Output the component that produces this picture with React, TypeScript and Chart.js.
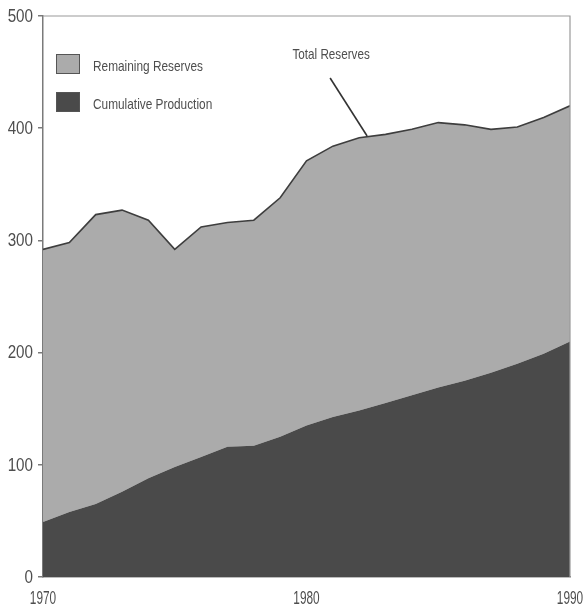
import React, { useEffect, useRef } from "react";
import { Chart, registerables } from "chart.js";

Chart.register(...registerables);

const years = [1970, 1971, 1972, 1973, 1974, 1975, 1976, 1977, 1978, 1979, 1980, 1981, 1982, 1983, 1984, 1985, 1986, 1987, 1988, 1989, 1990];
const cumulativeProduction = [49, 58, 65, 76, 88, 98, 107, 116, 117, 125, 135, 142.5, 148.5, 155, 162, 169, 175, 182, 190, 199, 210];
const totalReserves = [292, 298, 323, 327, 318, 292, 312, 316, 318, 338, 371, 384, 391.5, 394.5, 399, 405, 403, 399, 401, 409.5, 420];
const yTickValues = [0, 100, 200, 300, 400, 500];
const xTickValues = [1970, 1980, 1990];
const legendLabels = ["Remaining Reserves", "Cumulative Production"];
const annotationText = "Total Reserves";
const annotationYear = 1982.3;
const annotationValue = 393;

const LIGHT = "#ababab";
const DARK = "#4a4a4a";
const AXIS = "#7a7a7a";
const TEXT = "#4e4e4e";
const FONT = '"Liberation Sans", Arial, sans-serif';

function narrowText(ctx: CanvasRenderingContext2D, text: string, x: number, y: number, size: number, sx: number, align: CanvasTextAlign) {
  ctx.save();
  ctx.translate(x, y);
  ctx.scale(sx, 1);
  ctx.font = `${size}px ${FONT}`;
  ctx.textAlign = align;
  ctx.textBaseline = "middle";
  ctx.fillText(text, 0, 0);
  ctx.restore();
}

export default function App() {
  const ref = useRef<HTMLCanvasElement | null>(null);

  useEffect(() => {
    if (!ref.current) return;

    const overlay = {
      id: "overlay",
      afterDraw(chart: any) {
        const { ctx, chartArea, scales } = chart;
        ctx.save();
        // frame top and right
        ctx.strokeStyle = "#9a9a9a";
        ctx.lineWidth = 1.2;
        ctx.beginPath();
        ctx.moveTo(chartArea.left, chartArea.top);
        ctx.lineTo(chartArea.right, chartArea.top);
        ctx.lineTo(chartArea.right, chartArea.bottom);
        ctx.stroke();

        // tick labels
        ctx.fillStyle = TEXT;
        yTickValues.forEach((v) => {
          const py = scales.y.getPixelForValue(v);
          narrowText(ctx, String(v), chartArea.left - 10, py + 0.5, 19, 0.8, "right");
        });
        xTickValues.forEach((v) => {
          const px = scales.x.getPixelForValue(v);
          narrowText(ctx, String(v), px, chartArea.bottom + 22, 18.5, 0.64, "center");
        });

        // legend
        const colors = [LIGHT, DARK];
        legendLabels.forEach((lab, i) => {
          const bx = chartArea.left + 13;
          const by = chartArea.top + 38 + i * 38;
          ctx.fillStyle = colors[i];
          ctx.fillRect(bx, by, 24, 20);
          ctx.strokeStyle = "#555";
          ctx.lineWidth = 1;
          ctx.strokeRect(bx + 0.5, by + 0.5, 23, 19);
          ctx.fillStyle = TEXT;
          narrowText(ctx, lab, bx + 37, by + 13, 15, 0.79, "left");
        });

        // annotation
        const ax = scales.x.getPixelForValue(annotationYear);
        const ay = scales.y.getPixelForValue(annotationValue);
        const sx = ax - 37;
        const sy = ay - 58;
        ctx.strokeStyle = "#333";
        ctx.lineWidth = 1.6;
        ctx.beginPath();
        ctx.moveTo(sx, sy);
        ctx.lineTo(ax, ay);
        ctx.stroke();
        ctx.fillStyle = TEXT;
        narrowText(ctx, annotationText, sx + 1, sy - 23, 15, 0.78, "center");
        ctx.restore();
      },
    };

    const chart = new Chart(ref.current, {
      type: "line",
      data: {
        datasets: [
          {
            label: legendLabels[1],
            data: years.map((y, i) => ({ x: y, y: cumulativeProduction[i] })),
            fill: "origin",
            backgroundColor: DARK,
            borderColor: DARK,
            borderWidth: 0,
            pointRadius: 0,
            tension: 0,
          },
          {
            label: legendLabels[0],
            data: years.map((y, i) => ({ x: y, y: totalReserves[i] })),
            fill: "-1",
            backgroundColor: LIGHT,
            borderColor: "#3e3e3e",
            borderWidth: 1.6,
            pointRadius: 0,
            tension: 0,
          },
        ],
      },
      plugins: [overlay],
      options: {
        animation: false,
        responsive: false,
        maintainAspectRatio: false,
        layout: { padding: { top: 16, right: 14, left: 0, bottom: 0 } },
        plugins: { legend: { display: false }, tooltip: { enabled: false } },
        scales: {
          x: {
            type: "linear",
            min: 1970,
            max: 1990,
            afterFit: (s: any) => {
              s.height = 35;
              s.paddingLeft = 0;
              s.paddingRight = 0;
            },
            afterBuildTicks: (s: any) => {
              s.ticks = xTickValues.map((v) => ({ value: v }));
            },
            ticks: { display: false },
            grid: { drawOnChartArea: false, drawTicks: false },
            border: { color: AXIS, width: 1.5 },
          },
          y: {
            min: 0,
            max: 500,
            afterFit: (s: any) => {
              s.width = 43;
              s.paddingTop = 0;
              s.paddingBottom = 0;
            },
            afterBuildTicks: (s: any) => {
              s.ticks = yTickValues.map((v) => ({ value: v }));
            },
            ticks: { display: false },
            grid: { drawOnChartArea: false, drawTicks: true, tickLength: 5, color: AXIS, lineWidth: 1.5 },
            border: { color: AXIS, width: 1.5 },
          },
        },
      },
    });
    return () => chart.destroy();
  }, []);

  return (
    <div style={{ position: "fixed", left: 0, top: 0, width: 584, height: 612, background: "#fff" }}>
      <canvas ref={ref} width={584} height={612} style={{ width: 584, height: 612, display: "block" }} />
    </div>
  );
}
